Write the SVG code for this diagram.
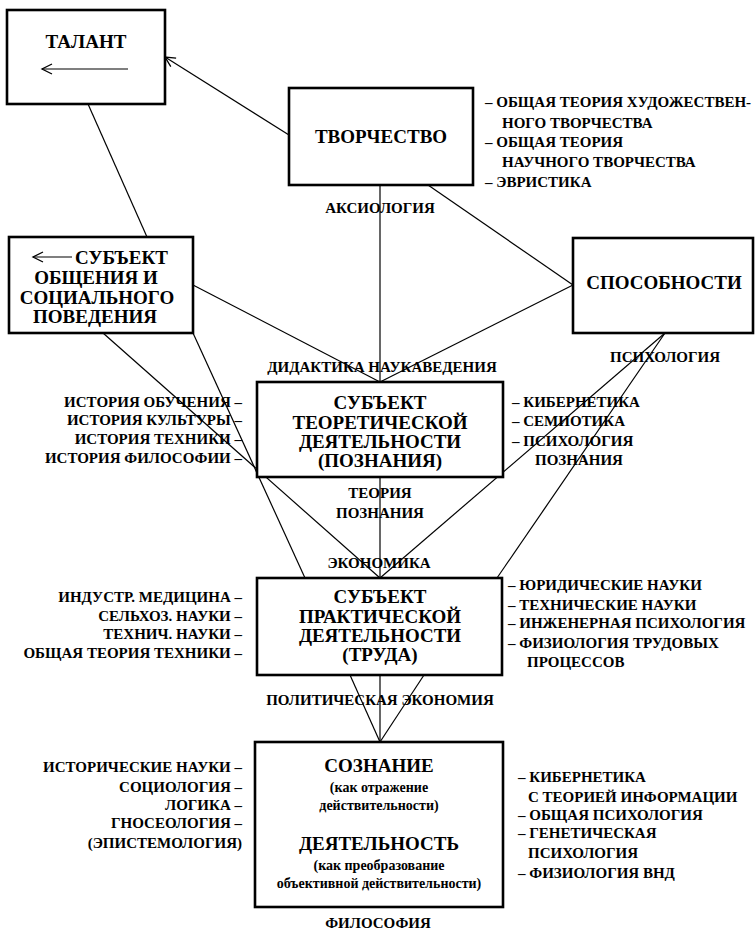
<svg xmlns="http://www.w3.org/2000/svg" width="756" height="930" viewBox="0 0 756 930">
<defs>
<marker id="arr" markerUnits="userSpaceOnUse" markerWidth="12" markerHeight="12" refX="11" refY="6" orient="auto" overflow="visible">
<path d="M1,1 L11,6 L1,11" fill="none" stroke="#000" stroke-width="1.3"/>
</marker>
<style>
.box{fill:#fff;stroke:#000;stroke-width:2.6}
.ln{stroke:#000;stroke-width:1.2;fill:none}
text{font-family:'Liberation Serif','DejaVu Serif',serif;font-weight:bold;fill:#000}
.t{font-size:19px}
.l{font-size:15px}
.s{font-size:14px}
.m{text-anchor:middle}
.e{text-anchor:end}
</style>
</defs>
<rect width="756" height="930" fill="#fff"/>
<g id="connectors">
<line class="ln" x1="289" y1="135" x2="165" y2="57" marker-end="url(#arr)"/>
<line class="ln" x1="88" y1="104" x2="147" y2="237"/>
<line class="ln" x1="380" y1="185" x2="380" y2="382"/>
<line class="ln" x1="428" y1="185" x2="573" y2="285"/>
<line class="ln" x1="193" y1="285" x2="380" y2="382"/>
<line class="ln" x1="573" y1="285" x2="380" y2="382"/>
<line class="ln" x1="103" y1="333" x2="380" y2="578"/>
<line class="ln" x1="193" y1="333" x2="305" y2="578"/>
<line class="ln" x1="665" y1="333" x2="380" y2="578"/>
<line class="ln" x1="665" y1="333" x2="497" y2="578"/>
<line class="ln" x1="380" y1="477" x2="380" y2="578"/>
<line class="ln" x1="350" y1="675" x2="380" y2="742"/>
<line class="ln" x1="380" y1="675" x2="380" y2="742"/>
<line class="ln" x1="424" y1="675" x2="380" y2="742"/>
</g>
<g id="talant">
<rect class="box" x="7" y="10" width="158" height="94"/>
<text class="t m" x="86" y="48">ТАЛАНТ</text>
<line class="ln" x1="128" y1="69" x2="42" y2="69" marker-end="url(#arr)"/>
</g>
<g id="tvorchestvo">
<rect class="box" x="289" y="88" width="184" height="97"/>
<text class="t m" x="381" y="143">ТВОРЧЕСТВО</text>
<text class="l" x="485" y="107">– ОБЩАЯ ТЕОРИЯ ХУДОЖЕСТВЕН-</text>
<text class="l" x="502" y="128">НОГО ТВОРЧЕСТВА</text>
<text class="l" x="485" y="147">– ОБЩАЯ ТЕОРИЯ</text>
<text class="l" x="502" y="167">НАУЧНОГО ТВОРЧЕСТВА</text>
<text class="l" x="485" y="187">– ЭВРИСТИКА</text>
<text class="l m" x="380" y="213">АКСИОЛОГИЯ</text>
</g>
<g id="obshchenie">
<rect class="box" x="9" y="237" width="184" height="96"/>
<line class="ln" x1="72" y1="257" x2="33" y2="257" marker-end="url(#arr)"/>
<text class="t" x="75" y="264">СУБЪЕКТ</text>
<text class="t m" x="96" y="284">ОБЩЕНИЯ И</text>
<text class="t m" x="97" y="304">СОЦИАЛЬНОГО</text>
<text class="t m" x="95" y="323">ПОВЕДЕНИЯ</text>
</g>
<g id="sposobnosti">
<rect class="box" x="573" y="238" width="180" height="95"/>
<text class="t m" x="664" y="289">СПОСОБНОСТИ</text>
<text class="l m" x="665" y="362">ПСИХОЛОГИЯ</text>
</g>
<g id="teoreticheskaya">
<text class="l m" x="382" y="372">ДИДАКТИКА НАУКАВЕДЕНИЯ</text>
<rect class="box" x="257" y="382" width="246" height="95"/>
<text class="t m" x="380" y="409">СУБЪЕКТ</text>
<text class="t m" x="380" y="429">ТЕОРЕТИЧЕСКОЙ</text>
<text class="t m" x="380" y="448">ДЕЯТЕЛЬНОСТИ</text>
<text class="t m" x="380" y="467">(ПОЗНАНИЯ)</text>
<text class="l e" x="242" y="407">ИСТОРИЯ ОБУЧЕНИЯ –</text>
<text class="l e" x="242" y="425">ИСТОРИЯ КУЛЬТУРЫ –</text>
<text class="l e" x="242" y="444">ИСТОРИЯ ТЕХНИКИ –</text>
<text class="l e" x="242" y="463">ИСТОРИЯ ФИЛОСОФИИ –</text>
<text class="l" x="512" y="407">– КИБЕРНЕТИКА</text>
<text class="l" x="512" y="426">– СЕМИОТИКА</text>
<text class="l" x="512" y="446">– ПСИХОЛОГИЯ</text>
<text class="l" x="535" y="465">ПОЗНАНИЯ</text>
<text class="l m" x="380" y="498">ТЕОРИЯ</text>
<text class="l m" x="380" y="518">ПОЗНАНИЯ</text>
<text class="l m" x="379" y="568">ЭКОНОМИКА</text>
</g>
<g id="prakticheskaya">
<rect class="box" x="257" y="578" width="245" height="97"/>
<text class="t m" x="380" y="603">СУБЪЕКТ</text>
<text class="t m" x="380" y="623">ПРАКТИЧЕСКОЙ</text>
<text class="t m" x="380" y="642">ДЕЯТЕЛЬНОСТИ</text>
<text class="t m" x="380" y="661">(ТРУДА)</text>
<text class="l e" x="242" y="602">ИНДУСТР. МЕДИЦИНА –</text>
<text class="l e" x="242" y="621">СЕЛЬХОЗ. НАУКИ –</text>
<text class="l e" x="242" y="639">ТЕХНИЧ. НАУКИ –</text>
<text class="l e" x="242" y="658">ОБЩАЯ ТЕОРИЯ ТЕХНИКИ –</text>
<text class="l" x="508" y="590">– ЮРИДИЧЕСКИЕ НАУКИ</text>
<text class="l" x="508" y="610">– ТЕХНИЧЕСКИЕ НАУКИ</text>
<text class="l" x="508" y="628">– ИНЖЕНЕРНАЯ ПСИХОЛОГИЯ</text>
<text class="l" x="508" y="648">– ФИЗИОЛОГИЯ ТРУДОВЫХ</text>
<text class="l" x="527" y="667">ПРОЦЕССОВ</text>
<text class="l m" x="380" y="705">ПОЛИТИЧЕСКАЯ ЭКОНОМИЯ</text>
</g>
<g id="soznanie">
<rect class="box" x="255" y="742" width="248" height="165"/>
<text class="t m" x="379" y="772">СОЗНАНИЕ</text>
<text class="s m" x="379" y="792">(как отражение</text>
<text class="s m" x="379" y="810">действительности)</text>
<text class="t m" x="379" y="850">ДЕЯТЕЛЬНОСТЬ</text>
<text class="s m" x="379" y="870">(как преобразование</text>
<text class="s m" x="379" y="888">объективной действительности)</text>
<text class="l e" x="242" y="772">ИСТОРИЧЕСКИЕ НАУКИ –</text>
<text class="l e" x="242" y="792">СОЦИОЛОГИЯ –</text>
<text class="l e" x="242" y="810">ЛОГИКА –</text>
<text class="l e" x="242" y="828">ГНОСЕОЛОГИЯ –</text>
<text class="l e" x="242" y="848">(ЭПИСТЕМОЛОГИЯ)</text>
<text class="l" x="518" y="782">– КИБЕРНЕТИКА</text>
<text class="l" x="528" y="802">С ТЕОРИЕЙ ИНФОРМАЦИИ</text>
<text class="l" x="518" y="820">– ОБЩАЯ ПСИХОЛОГИЯ</text>
<text class="l" x="518" y="838">– ГЕНЕТИЧЕСКАЯ</text>
<text class="l" x="528" y="858">ПСИХОЛОГИЯ</text>
<text class="l" x="518" y="878">– ФИЗИОЛОГИЯ ВНД</text>
<text class="l m" x="378" y="928">ФИЛОСОФИЯ</text>
</g>
</svg>
